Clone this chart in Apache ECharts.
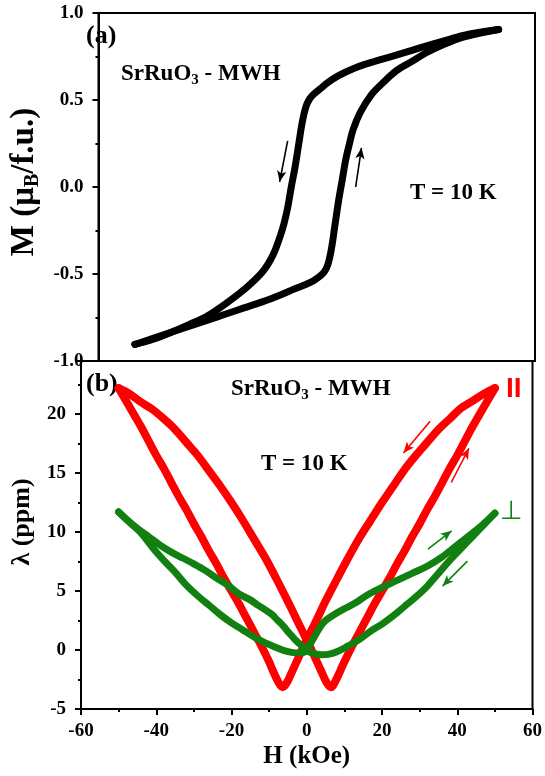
<!DOCTYPE html>
<html>
<head>
<meta charset="utf-8">
<script src="https://cdn.jsdelivr.net/npm/echarts@6/dist/echarts.min.js"></script>
<style>html,body{margin:0;padding:0;background:#fff;}#c{width:545px;height:776px;}</style>
</head>
<body>
<div id="c"></div>
<script>
// ---------- Panel (a): M vs H hysteresis ----------
const mDownH = [50, 45, 40, 35, 30, 25, 20, 15, 10, 6, 3, 1, -1, -2, -3, -4, -5, -6, -7, -8, -9, -10, -12, -15, -20, -25, -30, -35, -40, -45, -50];
const mDownM = [0.905, 0.89, 0.87, 0.84, 0.81, 0.778, 0.747, 0.716, 0.68, 0.64, 0.60, 0.565, 0.53, 0.505, 0.46, 0.37, 0.24, 0.11, 0.0, -0.12, -0.21, -0.28, -0.39, -0.49, -0.59, -0.67, -0.74, -0.79, -0.835, -0.875, -0.905];
const mUpH = [-50, -45, -40, -35, -30, -25, -20, -15, -10, -6, -3, -1, 1, 2, 3, 4, 5, 6, 7, 8, 9, 10, 12, 15, 18, 22, 26, 30, 35, 40, 45, 50];
const mUpM = [-0.905, -0.87, -0.835, -0.80, -0.765, -0.73, -0.695, -0.66, -0.62, -0.585, -0.56, -0.54, -0.51, -0.49, -0.45, -0.36, -0.22, -0.08, 0.04, 0.16, 0.25, 0.33, 0.43, 0.53, 0.595, 0.67, 0.72, 0.77, 0.82, 0.86, 0.885, 0.905];

// ---------- Panel (b): magnetostriction ----------
const redDownH = [50, 47, 44, 41, 38, 35, 32, 29, 26, 23, 20, 17, 14, 11, 8, 5, 3, 1, 0, -1, -2, -3, -4, -5, -5.8, -6.4, -7, -8, -9, -10, -12, -14, -16, -18, -20, -22, -24, -26, -28, -30, -32, -34, -36, -38, -40, -42, -44, -46, -48, -50];
const redDownL = [22.2, 21.7, 21.1, 20.5, 19.6, 18.7, 17.6, 16.5, 15.3, 13.9, 12.5, 11.0, 9.5, 7.8, 6.0, 4.15, 2.8, 1.5, 0.85, 0.2, -0.5, -1.2, -1.9, -2.6, -3.0, -3.15, -3.0, -2.45, -1.75, -1.0, 0.3, 1.5, 2.7, 3.9, 5.0, 6.1, 7.3, 8.4, 9.6, 10.7, 11.9, 13.0, 14.2, 15.4, 16.5, 17.7, 18.9, 20.0, 21.1, 22.2];
const redUpH = [-50, -47, -44, -41, -38, -35, -32, -29, -26, -23, -20, -17, -14, -11, -8, -5, -3, -1, 0, 1, 2, 3, 4, 5, 5.8, 6.4, 7, 8, 9, 10, 12, 14, 16, 18, 20, 22, 24, 26, 28, 30, 32, 34, 36, 38, 40, 42, 44, 46, 48, 50];
const redUpL = [22.2, 21.7, 21.0, 20.4, 19.6, 18.7, 17.6, 16.5, 15.2, 13.9, 12.5, 11.0, 9.4, 7.8, 6.0, 4.1, 2.8, 1.5, 0.85, 0.2, -0.5, -1.2, -1.9, -2.6, -3.0, -3.15, -3.0, -2.4, -1.7, -1.0, 0.3, 1.5, 2.7, 3.9, 5.0, 6.1, 7.3, 8.4, 9.6, 10.7, 11.9, 13.0, 14.2, 15.4, 16.5, 17.7, 18.9, 20.0, 21.1, 22.2];
const greenDownH = [50, 47, 44, 41, 38, 35, 32, 29, 26, 23, 20, 17, 14, 11, 8, 6, 4, 2, 0, -1, -2, -3, -4, -5, -6, -7, -8, -9, -11, -13, -15, -18, -21, -24, -27, -30, -33, -36, -39, -42, -45, -48, -50];
const greenDownL = [11.6, 10.6, 9.6, 8.6, 7.6, 6.5, 5.4, 4.5, 3.7, 2.9, 2.2, 1.6, 0.9, 0.35, -0.15, -0.35, -0.4, -0.3, -0.05, 0.25, 0.55, 0.85, 1.2, 1.55, 1.95, 2.3, 2.6, 2.95, 3.4, 3.8, 4.25, 4.75, 5.5, 6.1, 6.75, 7.3, 7.8, 8.3, 8.9, 9.6, 10.3, 11.1, 11.7];
const greenUpH = [-50, -47, -44, -41, -38, -35, -32, -29, -26, -23, -20, -17, -14, -11, -8, -6, -4, -2, 0, 1, 2, 3, 4, 5, 7, 10, 13, 16, 20, 24, 28, 32, 36, 40, 44, 47, 50];
const greenUpL = [11.7, 10.8, 9.9, 8.7, 7.6, 6.6, 5.5, 4.6, 3.8, 3.0, 2.3, 1.7, 1.1, 0.6, 0.2, -0.05, -0.2, -0.25, -0.05, 0.55, 1.1, 1.65, 2.15, 2.5, 2.95, 3.5, 4.0, 4.65, 5.3, 5.9, 6.5, 7.1, 7.9, 8.9, 9.9, 10.7, 11.6];

// axis ticks
const xTicks = { min: -60, max: 60, interval: 20 };
const mTicks = { min: -1, max: 1, interval: 0.5 };
const lTicks = { min: -5, max: 24.5, interval: 5 };

// direction arrows [fromH, fromY, toH, toY]
const arrowsA = [[-8.0, 0.265, -10.2, 0.03], [10.7, 0.0, 12.3, 0.225]];
const arrowsRed = [[32.8, 19.4, 25.7, 16.7], [38.4, 14.2, 43.1, 17.1]];
const arrowsGreen = [[32.2, 8.56, 38.5, 10.1], [42.7, 7.54, 36.1, 5.42]];

const zip = (a, b) => a.map((v, i) => [v, b[i]]);
const FONT = 'Liberation Serif';

function arrowLines(list, color) {
  return {
    silent: true, symbol: ['none', 'arrow'], symbolSize: [7, 11],
    label: { show: false }, emphasis: { disabled: true },
    lineStyle: { color: color, width: 1.6, type: 'solid' },
    data: list.map(a => [{ coord: [a[0], a[1]] }, { coord: [a[2], a[3]] }])
  };
}

const tickLabel = { fontFamily: FONT, fontWeight: 'bold', fontSize: 19, color: '#000' };
const xNameStyle = { fontFamily: FONT, fontWeight: 'bold', fontSize: 25, color: '#000' };
const lNameStyle = { fontFamily: FONT, fontWeight: 'bold', fontSize: 26, lineHeight: 28, color: '#000', padding: [0, 0, 0, 26] };
const subRich = {
  n: { fontFamily: FONT, fontWeight: 'bold', fontSize: 33, lineHeight: 36, color: '#000' },
  s: { fontFamily: FONT, fontWeight: 'bold', fontSize: 20, lineHeight: 20, verticalAlign: 'bottom', color: '#000' }
};
const annRich = {
  n: { fontFamily: FONT, fontWeight: 'bold', fontSize: 23, lineHeight: 27, color: '#000' },
  s: { fontFamily: FONT, fontWeight: 'bold', fontSize: 15, lineHeight: 15, verticalAlign: 'bottom', color: '#000' }
};

function lineSeries(h, v, color, width, xi, yi, extra) {
  return Object.assign({
    type: 'line', xAxisIndex: xi, yAxisIndex: yi, data: zip(h, v),
    showSymbol: false, symbol: 'none', smooth: 0.35,
    lineStyle: { color: color, width: width, cap: 'round', join: 'round' },
    itemStyle: { color: color }, emphasis: { disabled: true }, silent: true, z: 2
  }, extra || {});
}

const axisLineStyle = { show: true, onZero: false, lineStyle: { color: '#000', width: 2 } };
const majorTick = { show: true, length: 6, lineStyle: { color: '#000', width: 2 } };
const minorTick = { show: true, splitNumber: 2, length: 3, lineStyle: { color: '#000', width: 2 } };

const chart = echarts.init(document.getElementById('c'), null, { renderer: 'canvas' });
chart.setOption({
  animation: false,
  backgroundColor: '#fff',
  grid: [
    { left: 81, right: 10, top: 13, height: 348, show: true, borderColor: '#000', borderWidth: 2, containLabel: false },
    { left: 81, right: 10, top: 361, height: 348, show: true, borderColor: '#000', borderWidth: 2, containLabel: false }
  ],
  xAxis: [
    { type: 'value', gridIndex: 0, min: xTicks.min, max: xTicks.max, interval: xTicks.interval,
      axisLine: axisLineStyle, axisTick: { show: false },
      axisLabel: { show: false }, splitLine: { show: false } },
    { type: 'value', gridIndex: 1, min: xTicks.min, max: xTicks.max, interval: xTicks.interval,
      name: 'H (kOe)', nameLocation: 'middle', nameGap: 35, nameTextStyle: xNameStyle,
      axisLine: axisLineStyle, axisTick: majorTick, minorTick: minorTick,
      axisLabel: Object.assign({ margin: 13 }, tickLabel), splitLine: { show: false } }
  ],
  yAxis: [
    { type: 'value', gridIndex: 0, min: mTicks.min, max: mTicks.max, interval: mTicks.interval,
      name: '{n|M (μ}{s|B}{n|/f.u.)}', nameLocation: 'middle', nameGap: 37,
      nameTextStyle: { rich: subRich, padding: [0, 0, 0, 10] },
      axisLine: axisLineStyle, axisTick: majorTick, minorTick: minorTick,
      axisLabel: Object.assign({ margin: 15, formatter: v => v.toFixed(1) }, tickLabel),
      splitLine: { show: false } },
    { type: 'value', gridIndex: 1, min: lTicks.min, max: lTicks.max, interval: lTicks.interval,
      name: 'λ (ppm)', nameLocation: 'middle', nameGap: 44, nameTextStyle: lNameStyle,
      axisLine: axisLineStyle, axisTick: majorTick, minorTick: minorTick,
      axisLabel: Object.assign({ margin: 15, showMaxLabel: false,
        formatter: v => (Math.abs(v % 5) < 1e-9 ? String(v) : '') }, tickLabel),
      splitLine: { show: false } }
  ],
  series: [
    lineSeries(mDownH, mDownM, '#000', 7, 0, 0, { markLine: arrowLines(arrowsA, '#000') }),
    lineSeries(mUpH, mUpM, '#000', 7, 0, 0),
    lineSeries(redDownH, redDownL, '#ff0000', 8, 1, 1, { markLine: arrowLines(arrowsRed, '#ff0000') }),
    lineSeries(redUpH, redUpL, '#ff0000', 8, 1, 1),
    lineSeries(greenDownH, greenDownL, '#118011', 7, 1, 1, { z: 3, markLine: arrowLines(arrowsGreen, '#118011') }),
    lineSeries(greenUpH, greenUpL, '#118011', 7, 1, 1, { z: 3 })
  ],
  graphic: [
    { type: 'text', x: 86, y: 36, style: { text: '(a)', font: 'bold 26px "Liberation Serif"', fill: '#000', verticalAlign: 'middle' } },
    { type: 'text', x: 121, y: 74, style: { text: '{n|SrRuO}{s|3}{n| - MWH}', rich: annRich, verticalAlign: 'middle' } },
    { type: 'text', x: 410, y: 193, style: { text: 'T = 10 K', font: 'bold 23px "Liberation Serif"', fill: '#000', verticalAlign: 'middle' } },
    { type: 'text', x: 86, y: 384, style: { text: '(b)', font: 'bold 26px "Liberation Serif"', fill: '#000', verticalAlign: 'middle' } },
    { type: 'text', x: 231, y: 389, style: { text: '{n|SrRuO}{s|3}{n| - MWH}', rich: annRich, verticalAlign: 'middle' } },
    { type: 'text', x: 261, y: 464, style: { text: 'T = 10 K', font: 'bold 23px "Liberation Serif"', fill: '#000', verticalAlign: 'middle' } },
    { type: 'text', x: 506, y: 389, style: { text: 'II', font: 'bold 28px "Liberation Sans"', fill: '#ff0000', verticalAlign: 'middle' } },
    { type: 'text', x: 500, y: 512, style: { text: '⊥', font: '26px "DejaVu Sans"', fill: '#118011', verticalAlign: 'middle' } }
  ]
});
</script>
</body>
</html>
